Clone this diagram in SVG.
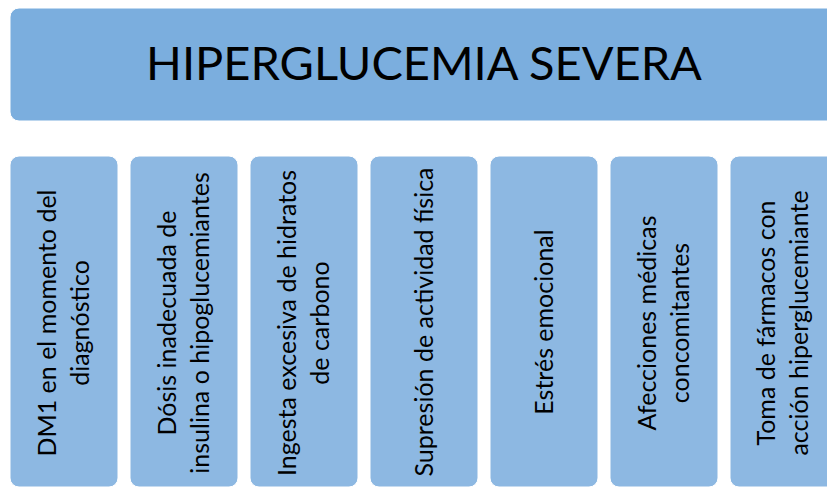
<svg xmlns="http://www.w3.org/2000/svg" width="827" height="488" viewBox="0 0 827 488">
<style>
.hdr{fill:#7BAEDE;stroke:#FFFFFF;stroke-width:1}
.box{fill:#8DB8E2;stroke:#FFFFFF;stroke-width:1}
.t{font-family:Lato,"Open Sans","Liberation Sans",sans-serif;fill:#000;text-anchor:middle}
.title{font-size:47px}
.lbl{font-size:25px}
</style>
<rect width="827" height="488" fill="#FFFFFF"/>
<g id="header">
<rect class="hdr" x="10" y="8" width="830" height="113" rx="9"/>
<text class="t title" x="424" y="80">HIPERGLUCEMIA SEVERA</text>
</g>
<g id="connectors"></g>
<g id="n1">
<rect class="box" x="10" y="156" width="108" height="331" rx="9"/>
<g transform="translate(64,323) rotate(-90)"><text class="t lbl" x="0" y="-8">DM1 en el momento del</text><text class="t lbl" x="0" y="25">diagnóstico</text></g>
</g>
<g id="n2">
<rect class="box" x="130" y="156" width="108" height="331" rx="9"/>
<g transform="translate(184,323) rotate(-90)"><text class="t lbl" x="0" y="-8">Dósis inadecuada de</text><text class="t lbl" x="0" y="25">insulina o hipoglucemiantes</text></g>
</g>
<g id="n3">
<rect class="box" x="250" y="156" width="108" height="331" rx="9"/>
<g transform="translate(304,323) rotate(-90)"><text class="t lbl" x="0" y="-8">Ingesta excesiva de hidratos</text><text class="t lbl" x="0" y="25">de carbono</text></g>
</g>
<g id="n4">
<rect class="box" x="370" y="156" width="108" height="331" rx="9"/>
<g transform="translate(424,322) rotate(-90)"><text class="t lbl" x="0" y="9">Supresión de actividad física</text></g>
</g>
<g id="n5">
<rect class="box" x="490" y="156" width="108" height="331" rx="9"/>
<g transform="translate(544,322) rotate(-90)"><text class="t lbl" x="0" y="9">Estrés emocional</text></g>
</g>
<g id="n6">
<rect class="box" x="610" y="156" width="108" height="331" rx="9"/>
<g transform="translate(664,323) rotate(-90)"><text class="t lbl" x="0" y="-8">Afecciones médicas</text><text class="t lbl" x="0" y="25">concomitantes</text></g>
</g>
<g id="n7">
<rect class="box" x="730" y="156" width="108" height="331" rx="9"/>
<g transform="translate(784,323) rotate(-90)"><text class="t lbl" x="0" y="-9">Toma de fármacos con</text><text class="t lbl" x="0" y="24">acción hiperglucemiante</text></g>
</g>
</svg>
